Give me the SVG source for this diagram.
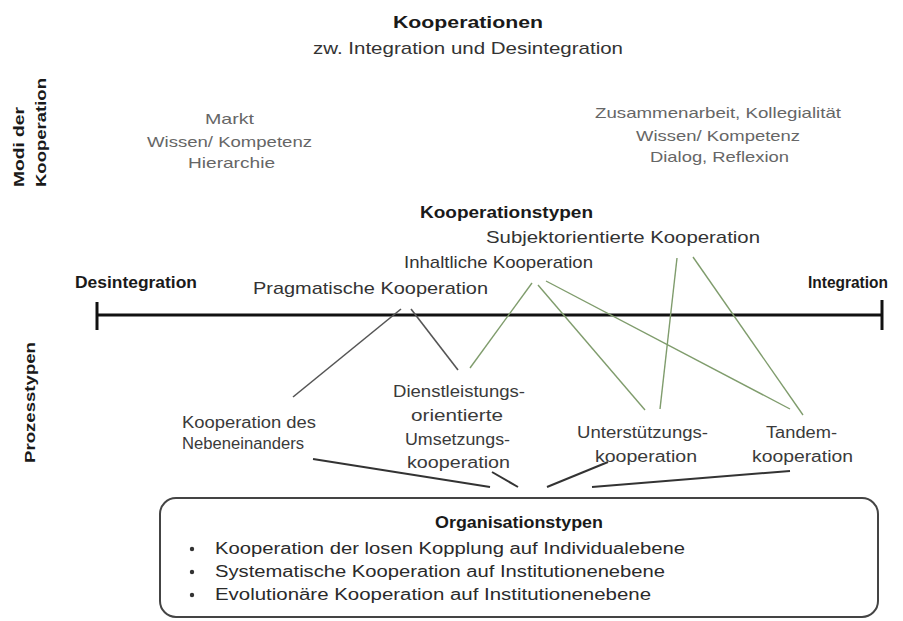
<svg xmlns="http://www.w3.org/2000/svg" width="903" height="621" viewBox="0 0 903 621">
<style>
text{font-family:"Liberation Sans",Arial,sans-serif;}
.b{font-weight:bold;fill:#1a1a1a;}
.g{fill:#666;font-size:15px;}
.t{fill:#333;font-size:17px;}
.p{fill:#3a3a3a;font-size:16px;}
.o{fill:#2a2a2a;font-size:16px;}
.dk{stroke:#555;stroke-width:1.6;fill:none;}
.gr{stroke:#7f9c6c;stroke-width:1.4;fill:none;}
.bt{stroke:#333;stroke-width:2;fill:none;}
</style>
<rect width="903" height="621" fill="#fff"/>

<g id="title">
<text class="b" x="393" y="28" font-size="17" textLength="150" lengthAdjust="spacingAndGlyphs">Kooperationen</text>
<text class="t" x="313" y="54" font-size="16" textLength="310" lengthAdjust="spacingAndGlyphs">zw. Integration und Desintegration</text>
</g>

<g id="side-labels">
<text class="b" font-size="15" transform="translate(24,187) rotate(-90)" textLength="80" lengthAdjust="spacingAndGlyphs">Modi der</text>
<text class="b" font-size="15" transform="translate(46,187) rotate(-90)" textLength="109" lengthAdjust="spacingAndGlyphs">Kooperation</text>
<text class="b" font-size="15" transform="translate(35,463) rotate(-90)" textLength="121" lengthAdjust="spacingAndGlyphs">Prozesstypen</text>
</g>

<g id="modi-links">
<text class="g" x="205" y="124" textLength="49" lengthAdjust="spacingAndGlyphs">Markt</text>
<text class="g" x="147" y="147" textLength="165" lengthAdjust="spacingAndGlyphs">Wissen/ Kompetenz</text>
<text class="g" x="188" y="168" textLength="87" lengthAdjust="spacingAndGlyphs">Hierarchie</text>
</g>

<g id="modi-rechts">
<text class="g" x="595" y="118" textLength="246" lengthAdjust="spacingAndGlyphs">Zusammenarbeit, Kollegialität</text>
<text class="g" x="636" y="141" textLength="164" lengthAdjust="spacingAndGlyphs">Wissen/ Kompetenz</text>
<text class="g" x="650" y="162" textLength="139" lengthAdjust="spacingAndGlyphs">Dialog, Reflexion</text>
</g>

<g id="kooperationstypen">
<text class="b" x="420" y="218" font-size="16" textLength="173" lengthAdjust="spacingAndGlyphs">Kooperationstypen</text>
</g>
<g id="subjektorientiert">
<text class="t" x="486" y="243" textLength="274" lengthAdjust="spacingAndGlyphs">Subjektorientierte Kooperation</text>
</g>
<g id="inhaltlich">
<text class="t" x="404" y="268" textLength="189" lengthAdjust="spacingAndGlyphs">Inhaltliche Kooperation</text>
</g>
<g id="pragmatisch">
<text class="t" x="253" y="294" textLength="235" lengthAdjust="spacingAndGlyphs">Pragmatische Kooperation</text>
</g>

<g id="axis">
<text class="b" x="75" y="288" font-size="16" textLength="122" lengthAdjust="spacingAndGlyphs">Desintegration</text>
<text class="b" x="808" y="288" font-size="16" textLength="80" lengthAdjust="spacingAndGlyphs">Integration</text>
<line x1="97" y1="315" x2="882" y2="315" stroke="#111" stroke-width="3"/>
<line x1="97" y1="302" x2="97" y2="330" stroke="#111" stroke-width="3"/>
<line x1="882" y1="300" x2="882" y2="330" stroke="#111" stroke-width="3"/>
</g>

<g id="connectors">
<line class="dk" x1="401" y1="309" x2="293" y2="397"/>
<line class="dk" x1="411" y1="309" x2="458" y2="370"/>
<line class="gr" x1="532" y1="283" x2="470" y2="368"/>
<line class="gr" x1="538" y1="285" x2="645" y2="410"/>
<line class="gr" x1="546" y1="281" x2="790" y2="409"/>
<line class="gr" x1="677" y1="258" x2="660" y2="409"/>
<line class="gr" x1="693" y1="257" x2="803" y2="415"/>
<line class="bt" x1="313" y1="459" x2="490" y2="487"/>
<line class="bt" x1="492" y1="472" x2="518" y2="487"/>
<line class="bt" x1="547" y1="487" x2="608" y2="462"/>
<line class="bt" x1="592" y1="487" x2="790" y2="471"/>
</g>

<g id="nebeneinander">
<text class="p" x="182" y="428" font-size="17" textLength="134" lengthAdjust="spacingAndGlyphs">Kooperation des</text>
<text class="p" x="182" y="449" font-size="17" textLength="122" lengthAdjust="spacingAndGlyphs">Nebeneinanders</text>
</g>
<g id="dienstleistung">
<text class="p" x="393" y="397" textLength="132" lengthAdjust="spacingAndGlyphs">Dienstleistungs-</text>
<text class="p" x="411" y="421" textLength="92" lengthAdjust="spacingAndGlyphs">orientierte</text>
<text class="p" x="405" y="445" textLength="105" lengthAdjust="spacingAndGlyphs">Umsetzungs-</text>
<text class="p" x="407" y="468" textLength="103" lengthAdjust="spacingAndGlyphs">kooperation</text>
</g>
<g id="unterstuetzung">
<text class="p" x="577" y="438" textLength="131" lengthAdjust="spacingAndGlyphs">Unterstützungs-</text>
<text class="p" x="595" y="462" textLength="102" lengthAdjust="spacingAndGlyphs">kooperation</text>
</g>
<g id="tandem">
<text class="p" x="766" y="438" textLength="71" lengthAdjust="spacingAndGlyphs">Tandem-</text>
<text class="p" x="752" y="462" textLength="101" lengthAdjust="spacingAndGlyphs">kooperation</text>
</g>

<g id="organisationstypen">
<rect x="160" y="498" width="718" height="119" rx="16" fill="#fff" stroke="#444" stroke-width="2"/>
<text class="b" x="435" y="528" font-size="16" textLength="168" lengthAdjust="spacingAndGlyphs">Organisationstypen</text>
<circle cx="192" cy="549" r="2.2" fill="#333"/>
<circle cx="192" cy="572" r="2.2" fill="#333"/>
<circle cx="192" cy="595" r="2.2" fill="#333"/>
<text class="o" x="215" y="554" textLength="470" lengthAdjust="spacingAndGlyphs">Kooperation der losen Kopplung  auf Individualebene</text>
<text class="o" x="215" y="577" textLength="450" lengthAdjust="spacingAndGlyphs">Systematische Kooperation auf Institutionenebene</text>
<text class="o" x="215" y="600" textLength="436" lengthAdjust="spacingAndGlyphs">Evolutionäre Kooperation  auf Institutionenebene</text>
</g>
</svg>
